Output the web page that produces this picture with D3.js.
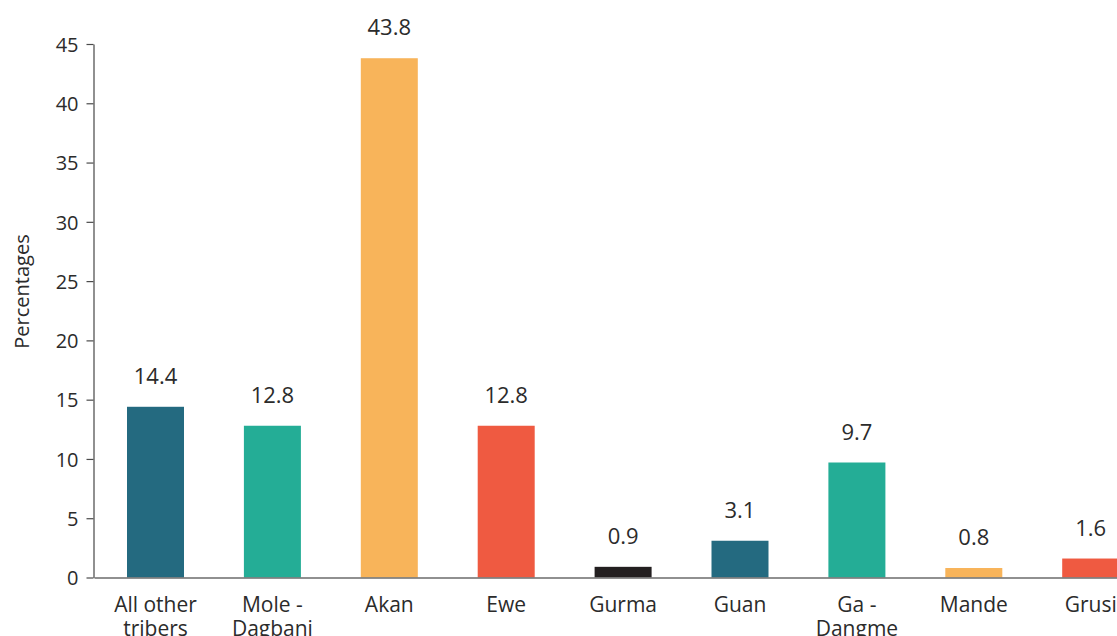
<!DOCTYPE html>
<html>
<head>
<meta charset="utf-8">
<script src="https://cdn.jsdelivr.net/npm/d3@7"></script>
<style>
  body { margin: 0; background: #fff; }
  svg { display: block; font-family: "Open Sans", "Noto Sans", sans-serif; }
</style>
</head>
<body>
<svg id="chart" width="1117" height="636"></svg>
<script>
// Ethnic group shares (percent)
const categories = ["All other\ntribers", "Mole -\nDagbani", "Akan", "Ewe", "Gurma", "Guan", "Ga -\nDangme", "Mande", "Grusi"];
const values = [14.4, 12.8, 43.8, 12.8, 0.9, 3.1, 9.7, 0.8, 1.6];
const barColors = ["#246a80", "#24ad96", "#f8b45a", "#ef5a41", "#231f20", "#246a80", "#24ad96", "#f8b45a", "#ef5a41"];
const yTicks = [0, 5, 10, 15, 20, 25, 30, 35, 40, 45];
const yTitle = "Percentages";

const svg = d3.select("#chart");
const textColor = "#2b2b2b";
const fontFamily = "'Open Sans', 'Noto Sans', sans-serif";

const x = d3.scaleBand()
  .domain(categories)
  .range([94, 1152.2])
  .paddingInner(0.5124)
  .paddingOuter(0.2823);

const y = d3.scaleLinear()
  .domain([0, 45])
  .range([577.5, 44]);

// Bars
svg.append("g")
  .selectAll("rect")
  .data(values)
  .join("rect")
  .attr("x", (d, i) => x(categories[i]))
  .attr("width", x.bandwidth())
  .attr("y", d => y(d))
  .attr("height", d => y(0) - y(d))
  .attr("fill", (d, i) => barColors[i]);

// Value labels
svg.append("g")
  .selectAll("text")
  .data(values)
  .join("text")
  .attr("x", (d, i) => x(categories[i]) + x.bandwidth() / 2)
  .attr("y", d => y(d) - 23)
  .attr("text-anchor", "middle")
  .attr("fill", textColor)
  .style("font-size", "22px")
  .text(d => d.toFixed(1));

// X axis line
const xAxis = svg.append("g")
  .attr("transform", `translate(0,${y(0)})`)
  .call(d3.axisBottom(x).tickSize(0).tickSizeOuter(0).tickFormat(""));
xAxis.select(".domain").attr("stroke", "#6b6b6b").attr("stroke-width", 1.5);

// Category labels (multi-line)
const catLabels = svg.append("g")
  .selectAll("text")
  .data(categories)
  .join("text")
  .attr("x", d => x(d) + x.bandwidth() / 2)
  .attr("y", 611.5)
  .attr("text-anchor", "middle")
  .attr("fill", textColor)
  .style("font-size", "21px");
catLabels.each(function (d) {
  const lines = d.split("\n");
  d3.select(this).selectAll("tspan")
    .data(lines)
    .join("tspan")
    .attr("x", x(d) + x.bandwidth() / 2)
    .attr("dy", (l, j) => j === 0 ? 0 : 24)
    .text(l => l);
});

// Y axis
const yAxis = svg.append("g")
  .attr("transform", "translate(93.5,0)")
  .call(d3.axisLeft(y).tickValues(yTicks).tickSize(7).tickSizeOuter(0).tickPadding(8));
yAxis.select(".domain").attr("stroke", "#6b6b6b").attr("stroke-width", 1.5);
yAxis.selectAll(".tick line").attr("stroke", "#4a4a4a").attr("stroke-width", 1.2);
yAxis.selectAll(".tick text")
  .attr("fill", textColor)
  .attr("dy", "0.36em")
  .style("font-size", "20px")
  .style("font-family", fontFamily);

// Y axis title
svg.append("text")
  .attr("transform", "translate(29,291.5) rotate(-90)")
  .attr("text-anchor", "middle")
  .attr("fill", textColor)
  .style("font-size", "20px")
  .text(yTitle);
</script>
</body>
</html>
